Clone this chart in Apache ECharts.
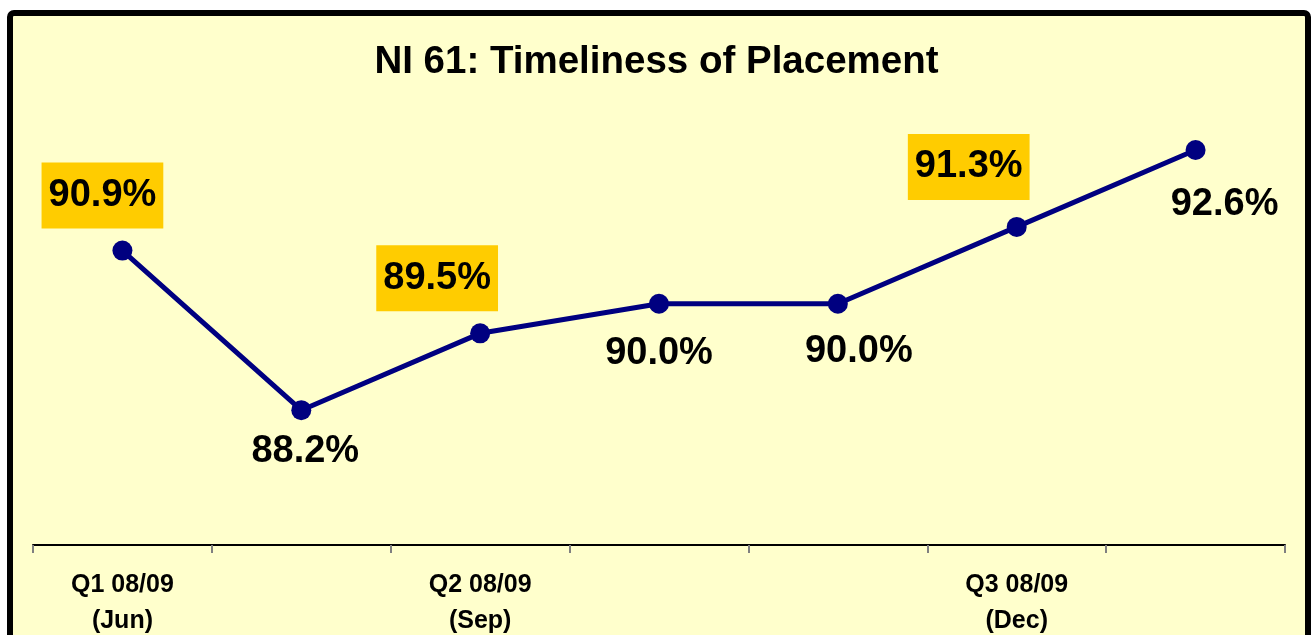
<!DOCTYPE html>
<html>
<head>
<meta charset="utf-8">
<script src="https://cdn.jsdelivr.net/npm/echarts@6/dist/echarts.min.js"></script>
<style>
html,body{margin:0;padding:0;background:#fff;}
#chart{width:1313px;height:635px;}
</style>
</head>
<body>
<div id="chart"></div>
<script>
const titleText = 'NI 61: Timeliness of Placement';
const categories = ['Q1 08/09 (Jun)', 'P2', 'Q2 08/09 (Sep)', 'P4', 'P5', 'Q3 08/09 (Dec)', 'P7'];
const tickLabels = ['Q1 08/09\n(Jun)', '', 'Q2 08/09\n(Sep)', '', '', 'Q3 08/09\n(Dec)', ''];
const values = [90.9, 88.2, 89.5, 90.0, 90.0, 91.3, 92.6];
const highlighted = [true, false, true, false, false, true, false];
const labelOffsets = [[-20, -55], [4, 41], [-43, -55], [0, 50], [21, 48], [-48, -60], [29, 54]];

const FONT = 'Arial, "Liberation Sans", sans-serif';
const chart = echarts.init(document.getElementById('chart'));

const seriesData = values.map((v, i) => ({
  value: v,
  label: highlighted[i] ? {
    backgroundColor: '#FFCC00',
    padding: [14, 7, 14, 7],
    offset: labelOffsets[i]
  } : {
    offset: labelOffsets[i]
  }
}));

chart.setOption({
  backgroundColor: '#ffffff',
  animation: false,
  graphic: [{
    type: 'rect',
    z: -10,
    shape: { x: 10, y: 13, width: 1298, height: 640, r: 4 },
    style: { fill: '#FFFFCC', stroke: '#000000', lineWidth: 6 }
  }],
  title: {
    text: titleText,
    left: 'center',
    top: 38,
    textStyle: { fontFamily: FONT, fontSize: 38.5, fontWeight: 'bold', color: '#000' }
  },
  grid: { left: 33, right: 28, top: 72, bottom: 90, containLabel: false, outerBoundsMode: 'none' },
  xAxis: {
    type: 'category',
    data: categories,
    boundaryGap: true,
    axisLine: { show: true, lineStyle: { color: '#000', width: 2 } },
    axisTick: { show: true, length: 8, lineStyle: { color: '#808080', width: 2 } },
    axisLabel: {
      interval: 0,
      margin: 22,
      formatter: (v, i) => tickLabels[i],
      fontFamily: FONT, fontSize: 25, fontWeight: 'bold', color: '#000', lineHeight: 36
    },
    splitLine: { show: false }
  },
  yAxis: {
    type: 'value',
    min: 85.92,
    max: 93.92,
    show: false,
    splitLine: { show: false }
  },
  series: [{
    type: 'line',
    data: seriesData,
    symbol: 'circle',
    symbolSize: 20,
    lineStyle: { color: '#000080', width: 5 },
    itemStyle: { color: '#000080' },
    label: {
      show: true,
      position: 'inside',
      formatter: p => p.value.toFixed(1) + '%',
      fontFamily: FONT, fontSize: 38, fontWeight: 'bold', color: '#000', lineHeight: 38
    }
  }]
});
</script>
</body>
</html>
